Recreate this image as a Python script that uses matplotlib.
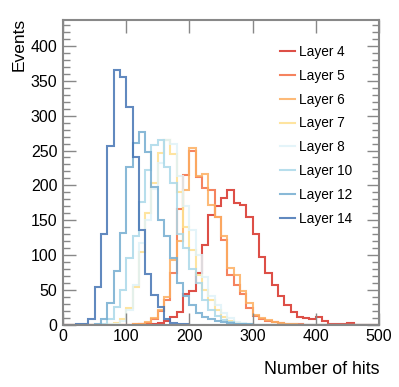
import numpy as np
import matplotlib
matplotlib.use("Agg")
import matplotlib.pyplot as plt
from matplotlib.ticker import MultipleLocator

plt.rcParams['font.family'] = ['Liberation Sans', 'DejaVu Sans']

# 50 bins of width 10 between 0 and 500
bin_edges = np.arange(0, 510, 10)

layer_names = ["Layer 4", "Layer 5", "Layer 6", "Layer 7", "Layer 8", "Layer 10", "Layer 12", "Layer 14"]
layer_colors = ['#d73027', '#f46d43', '#fdae61', '#fee090', '#e0f3f8', '#abd9e9', '#74add1', '#4575b4']

layer4 = [0, 0, 0, 0, 0, 0, 0, 0, 0, 0,
          0, 0, 1, 1, 2, 3, 6, 12, 19, 45,
          49, 74, 115, 157, 170, 182, 194, 175, 172, 155,
          131, 97, 74, 57, 41, 29, 19, 12, 10, 8,
          11, 6, 2, 1, 1, 3, 0, 0, 0, 0]
layer5 = [0, 0, 0, 0, 0, 0, 0, 0, 0, 0,
          0, 1, 2, 3, 8, 20, 36, 74, 166, 215,
          250, 212, 196, 194, 155, 122, 72, 57, 44, 25,
          13, 9, 6, 4, 3, 2, 2, 1, 0, 0,
          0, 0, 0, 0, 0, 0, 0, 0, 0, 0]
layer6 = [0, 0, 0, 0, 0, 0, 0, 0, 0, 0,
          0, 1, 2, 4, 10, 22, 40, 93, 120, 194,
          253, 213, 216, 172, 155, 127, 81, 72, 48, 31,
          14, 10, 7, 5, 3, 2, 1, 0, 0, 0,
          0, 0, 0, 0, 0, 0, 0, 0, 0, 0]
layer7 = [0, 0, 0, 0, 0, 0, 0, 1, 3, 8,
          25, 55, 105, 160, 203, 246, 265, 245, 190, 140,
          108, 72, 50, 36, 22, 12, 6, 3, 2, 1,
          0, 0, 0, 0, 0, 0, 0, 0, 0, 0,
          0, 0, 0, 0, 0, 0, 0, 0, 0, 0]
layer8 = [0, 0, 0, 0, 0, 0, 0, 1, 2, 6,
          22, 58, 118, 150, 195, 232, 265, 260, 213, 170,
          136, 100, 69, 41, 29, 17, 10, 5, 3, 1,
          0, 0, 0, 0, 0, 0, 0, 0, 0, 0,
          0, 0, 0, 0, 0, 0, 0, 0, 0, 0]
layer10 = [0, 0, 0, 0, 0, 0, 1, 8, 26, 50,
           96, 128, 176, 222, 258, 265, 227, 203, 131, 110,
           80, 60, 36, 22, 13, 7, 4, 2, 1, 0,
           0, 0, 0, 0, 0, 0, 0, 0, 0, 0,
           0, 0, 0, 0, 0, 0, 0, 0, 0, 0]
layer12 = [0, 0, 0, 0, 0, 1, 8, 32, 78, 132,
           226, 261, 276, 248, 198, 150, 128, 96, 60, 41,
           29, 17, 12, 9, 6, 5, 3, 2, 1, 1,
           0, 0, 0, 0, 0, 0, 0, 0, 0, 0,
           0, 0, 0, 0, 0, 0, 0, 0, 0, 0]
layer14 = [0, 0, 1, 2, 8, 55, 131, 257, 366, 355,
           312, 241, 136, 73, 43, 26, 9, 3, 1, 1,
           0, 0, 0, 0, 0, 0, 0, 0, 0, 0,
           0, 0, 0, 0, 0, 0, 0, 0, 0, 0,
           0, 0, 0, 0, 0, 0, 0, 0, 0, 0]

layer_counts = [layer4, layer5, layer6, layer7, layer8, layer10, layer12, layer14]

fig = plt.figure(figsize=(3.99, 3.87), dpi=100)
ax = fig.add_axes([63 / 399, 1 - 325 / 387, 316 / 399, 305 / 387])

for name, col, counts in zip(layer_names, layer_colors, layer_counts):
	ax.stairs(counts, bin_edges, color=col, linewidth=1.5, alpha=0.85, label=name)

ax.set_xlim(0, 500)
ax.set_ylim(0, 437)

ax.xaxis.set_major_locator(MultipleLocator(100))
ax.yaxis.set_major_locator(MultipleLocator(50))
ax.yaxis.set_minor_locator(MultipleLocator(10))
ax.tick_params(which='both', direction='in', top=True, right=True, color='#888888', labelsize=11.5, width=1)
ax.tick_params(which='major', length=9)
ax.tick_params(which='minor', length=5)
ax.tick_params(axis='x', pad=3)
ax.tick_params(axis='y', pad=4)
for sp in ax.spines.values():
	sp.set_color('#888888')
	sp.set_linewidth(1.5)

fig.text(19 / 399, 1 - 18 / 387, "Events", rotation=90, ha='center', va='top', fontsize=12.5)
fig.text(380 / 399, 1 - 369 / 387, "Number of hits", ha='right', va='center', fontsize=12.8)

ax.legend(loc='upper left', bbox_to_anchor=(280 / 399, 1 - 45 / 387), bbox_transform=fig.transFigure,
	frameon=False, fontsize=9.8, handlelength=1.1, handletextpad=0.3, labelspacing=0.72, borderpad=0, borderaxespad=0)

fig.savefig("out.png", dpi=100)
